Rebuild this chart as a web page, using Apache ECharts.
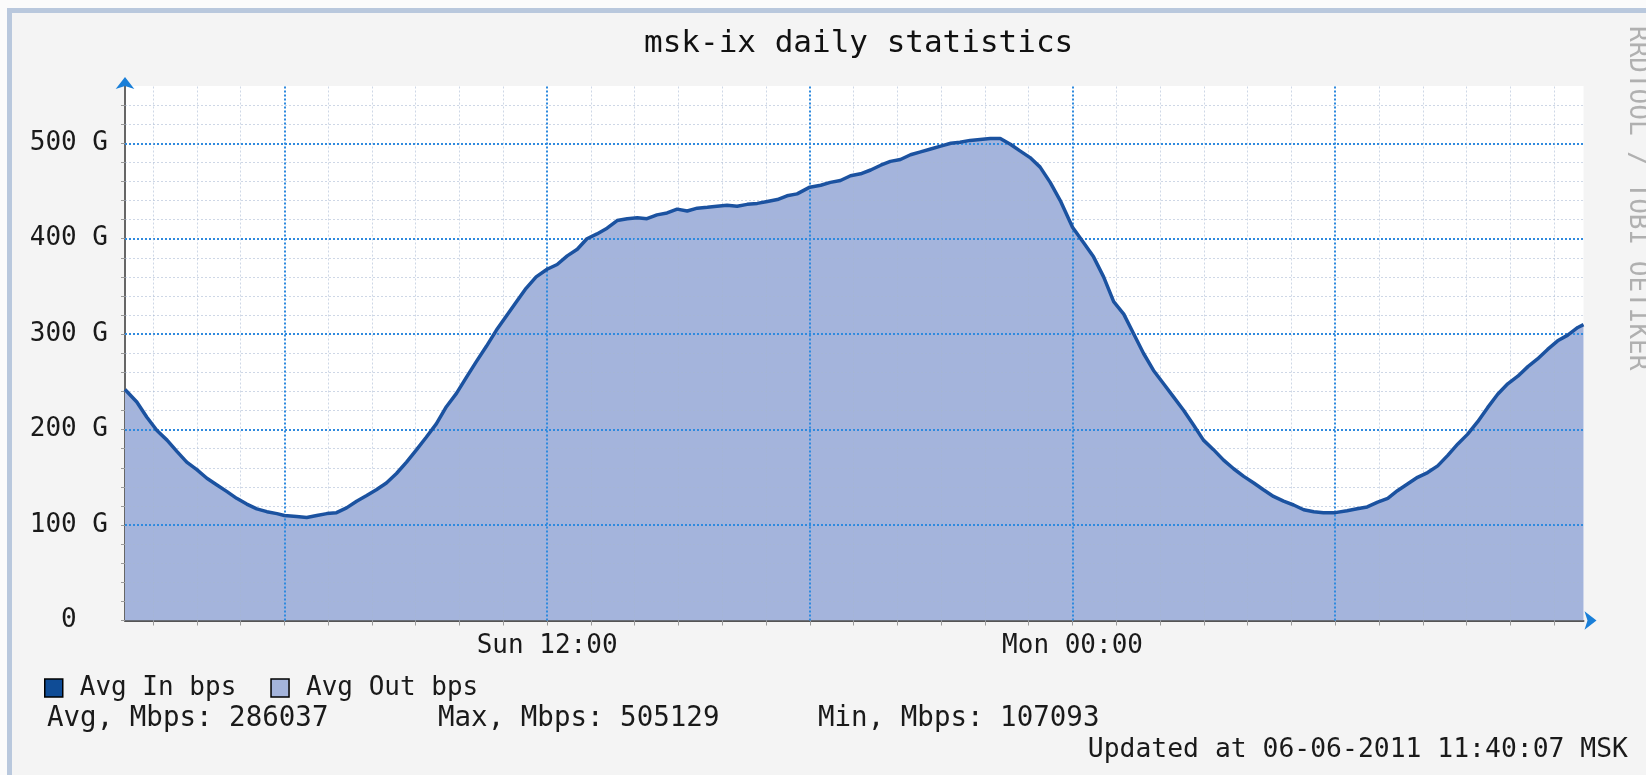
<!DOCTYPE html>
<html><head><meta charset="utf-8">
<script src="https://cdn.jsdelivr.net/npm/echarts@6/dist/echarts.min.js"></script>
<style>
html,body{margin:0;padding:0;background:#fbfbfb;overflow:hidden;}
#frame{position:absolute;left:7px;top:8px;width:1639px;height:767px;box-sizing:border-box;border-left:5px solid #b9c8dd;border-top:5px solid #b9c8dd;background:#f4f4f4;}
#chart{position:absolute;left:0;top:0;width:1646px;height:775px;}
</style></head><body><div id="frame"></div><div id="chart"></div>
<script>
// time in hours since Sun 00:00
const hours = [2.36,2.63,2.86,3.09,3.32,3.55,3.77,4.00,4.23,4.46,4.69,4.91,5.14,5.37,5.60,5.83,6.00,6.28,6.51,6.74,6.97,7.19,7.42,7.65,7.88,8.10,8.33,8.56,8.79,9.02,9.24,9.47,9.70,9.93,10.16,10.38,10.61,10.84,11.07,11.30,11.52,11.75,12.00,
12.23,12.46,12.69,12.91,13.14,13.37,13.60,13.83,14.06,14.28,14.51,14.74,14.97,15.20,15.43,15.66,15.88,16.11,16.34,16.57,16.80,17.03,17.26,17.48,17.71,18.00,18.25,18.47,18.70,18.93,19.16,19.39,19.62,19.84,20.07,20.30,20.53,20.76,20.99,21.22,
21.43,21.66,21.89,22.12,22.35,22.58,22.80,23.03,23.26,23.49,23.72,24.00,24.25,24.48,24.71,24.94,25.17,25.39,25.62,25.85,26.08,26.31,26.54,26.76,26.99,27.22,27.45,27.68,27.91,28.14,28.36,28.59,28.82,29.05,29.28,29.51,29.73,30.00,30.27,30.50,30.73,30.97,
31.20,31.42,31.65,31.88,32.11,32.34,32.57,32.80,33.02,33.25,33.48,33.71,33.94,34.17,34.40,34.62,34.85,35.08,35.31,35.54,35.67];
// traffic, G
const traffic = [242,229,213,199,189,177,166,158,149,142,135,128,122,117,114,112,110,109,108,110,112,113,118,125,131,137,144,154,166,179,192,206,224,238,255,271,287,304,319,334,348,360,368,
373,382,389,400,405,411,419,421,422,421,425,427,431,429,432,433,434,435,434,436,437,439,441,445,447,454,456,459,461,466,468,472,477,481,483,488,491,494,497,500,
501,503,504,505,505,499,492,485,475,459,440,412,396,381,360,334,321,301,280,262,248,234,220,205,189,179,168,159,151,144,137,130,125,121,116,114,113,113,115,117,119,124,
128,136,143,150,155,162,173,185,195,208,223,237,248,256,266,274,284,293,299,307,310];

const xMin = 2.36, xMax = 35.67;
const yMin = 0, yMax = 560;
const xLabelHours = [12, 24];
const xLabelText = ['Sun 12:00', 'Mon 00:00'];
const yLabelValues = [0, 100, 200, 300, 400, 500];
const majorHours = [6, 12, 18, 24, 30];
const minorHours = [3,4,5,7,8,9,10,11,13,14,15,16,17,19,20,21,22,23,25,26,27,28,29,31,32,33,34,35];
const majorValues = [100, 200, 300, 400, 500];
const minorValues = [20,40,60,80,120,140,160,180,220,240,260,280,320,340,360,380,420,440,460,480,520,540];
const yTickValues = [0,20,40,60,80,100,120,140,160,180,200,220,240,260,280,300,320,340,360,380,400,420,440,460,480,500,520,540];
const xTickHours = [3,4,5,6,7,8,9,10,11,12,13,14,15,16,17,18,19,20,21,22,23,24,25,26,27,28,29,30,31,32,33,34,35];

const titleText = 'msk-ix daily statistics';
const inName = 'Avg In bps';
const outName = 'Avg Out bps';
const avgText = 'Avg, Mbps: 286037';
const maxText = 'Max, Mbps: 505129';
const minText = 'Min, Mbps: 107093';
const updatedText = 'Updated at 06-06-2011 11:40:07 MSK';
const watermark = 'RRDTOOL / TOBI OETIKER';

const mono = 'DejaVu Sans Mono';
const data = hours.map((h, i) => [h, traffic[i]]);

const majorStyle = {color: '#2f8ade', width: 2, type: [2, 2]};
const minorStyle = {color: 'rgba(165,182,210,0.55)', width: 1, type: [2, 2]};
const gridLines = [];
majorValues.forEach(v => gridLines.push({yAxis: v, lineStyle: majorStyle}));
minorValues.forEach(v => gridLines.push({yAxis: v, lineStyle: minorStyle}));
majorHours.forEach(h => gridLines.push({xAxis: h, lineStyle: majorStyle}));
minorHours.forEach(h => gridLines.push({xAxis: h, lineStyle: minorStyle}));

const chart = echarts.init(document.getElementById('chart'));
chart.setOption({
  animation: false,
  backgroundColor: 'transparent',
  title: {text: titleText, left: 644, top: 28, padding: 0,
    textStyle: {fontFamily: mono, fontSize: 31, fontWeight: 'normal', color: '#111'}},
  grid: {left: 125, right: 62.5, top: 86, bottom: 154.5, show: true, backgroundColor: '#ffffff', borderWidth: 0},
  legend: {
    left: 44, top: 675, padding: 0, itemWidth: 18, itemHeight: 18, itemGap: 34,
    textStyle: {fontFamily: mono, fontSize: 26, color: '#1a1a1a', padding: [0, 0, 0, 12]},
    data: [
      {name: inName, icon: 'rect', itemStyle: {color: '#0f4c96', borderColor: '#000', borderWidth: 1.5}},
      {name: outName, icon: 'rect', itemStyle: {color: '#a4b4dc', borderColor: '#000', borderWidth: 1.5}}
    ]
  },
  xAxis: [{
    type: 'value', min: xMin, max: xMax,
    axisLine: {show: true, lineStyle: {color: '#555', width: 2}},
    axisTick: {show: true, customValues: xTickHours, length: 5, lineStyle: {color: '#9a9a9a', width: 1}},
    axisLabel: {show: true, customValues: xLabelHours, formatter: v => xLabelText[xLabelHours.indexOf(v)] || '',
      fontFamily: mono, fontSize: 26, color: '#1a1a1a', margin: 13},
    splitLine: {show: false}
  }, {
    type: 'value', min: xMin, max: xMax, position: 'bottom',
    axisLine: {show: true, symbol: ['none', 'arrow'], symbolSize: [14, 12], symbolOffset: [0, 13],
      lineStyle: {color: '#1a7fd8', width: 0.01}},
    axisTick: {show: false}, axisLabel: {show: false}, splitLine: {show: false}
  }],
  yAxis: [{
    type: 'value', min: yMin, max: yMax,
    axisLine: {show: true, lineStyle: {color: '#666', width: 2}},
    axisTick: {show: true, customValues: yTickValues, length: 4, lineStyle: {color: '#9a9a9a', width: 1}},
    axisLabel: {show: true, customValues: yLabelValues, formatter: v => v === 0 ? '0  ' : v + ' G',
      fontFamily: mono, fontSize: 26, color: '#1a1a1a', margin: 17},
    splitLine: {show: false}
  }, {
    type: 'value', min: yMin, max: yMax, position: 'left',
    axisLine: {show: true, symbol: ['none', 'arrow'], symbolSize: [14, 12], symbolOffset: [0, 9],
      lineStyle: {color: '#1a7fd8', width: 0.01}},
    axisTick: {show: false}, axisLabel: {show: false}, splitLine: {show: false}
  }],
  series: [{
    name: outName, type: 'line', data: data, showSymbol: false, symbol: 'none', z: 2,
    lineStyle: {width: 0, color: '#a4b4dc'}, itemStyle: {color: '#a4b4dc'},
    areaStyle: {color: '#a4b4dc', opacity: 1},
    markLine: {silent: true, symbol: 'none', label: {show: false}, animation: false, data: gridLines}
  }, {
    name: inName, type: 'line', data: data, showSymbol: false, symbol: 'none', z: 10,
    lineStyle: {width: 3.5, color: '#1b52a0'}, itemStyle: {color: '#0f4c96'}
  }],
  graphic: [
    {type: 'text', x: 1637, y: 26, rotation: -Math.PI / 2, silent: true,
      style: {text: watermark, font: '26px "DejaVu Sans Mono"', fill: '#b0b0b0', align: 'left', verticalAlign: 'middle'}},
    {type: 'text', x: 47, y: 719, silent: true,
      style: {text: avgText, font: '27.5px "DejaVu Sans Mono"', fill: '#1a1a1a', align: 'left', verticalAlign: 'middle'}},
    {type: 'text', x: 438, y: 719, silent: true,
      style: {text: maxText, font: '27.5px "DejaVu Sans Mono"', fill: '#1a1a1a', align: 'left', verticalAlign: 'middle'}},
    {type: 'text', x: 818, y: 719, silent: true,
      style: {text: minText, font: '27.5px "DejaVu Sans Mono"', fill: '#1a1a1a', align: 'left', verticalAlign: 'middle'}},
    {type: 'text', x: 1628, y: 750, silent: true,
      style: {text: updatedText, font: '26.4px "DejaVu Sans Mono"', fill: '#1a1a1a', align: 'right', verticalAlign: 'middle'}}
  ]
});
</script></body></html>
